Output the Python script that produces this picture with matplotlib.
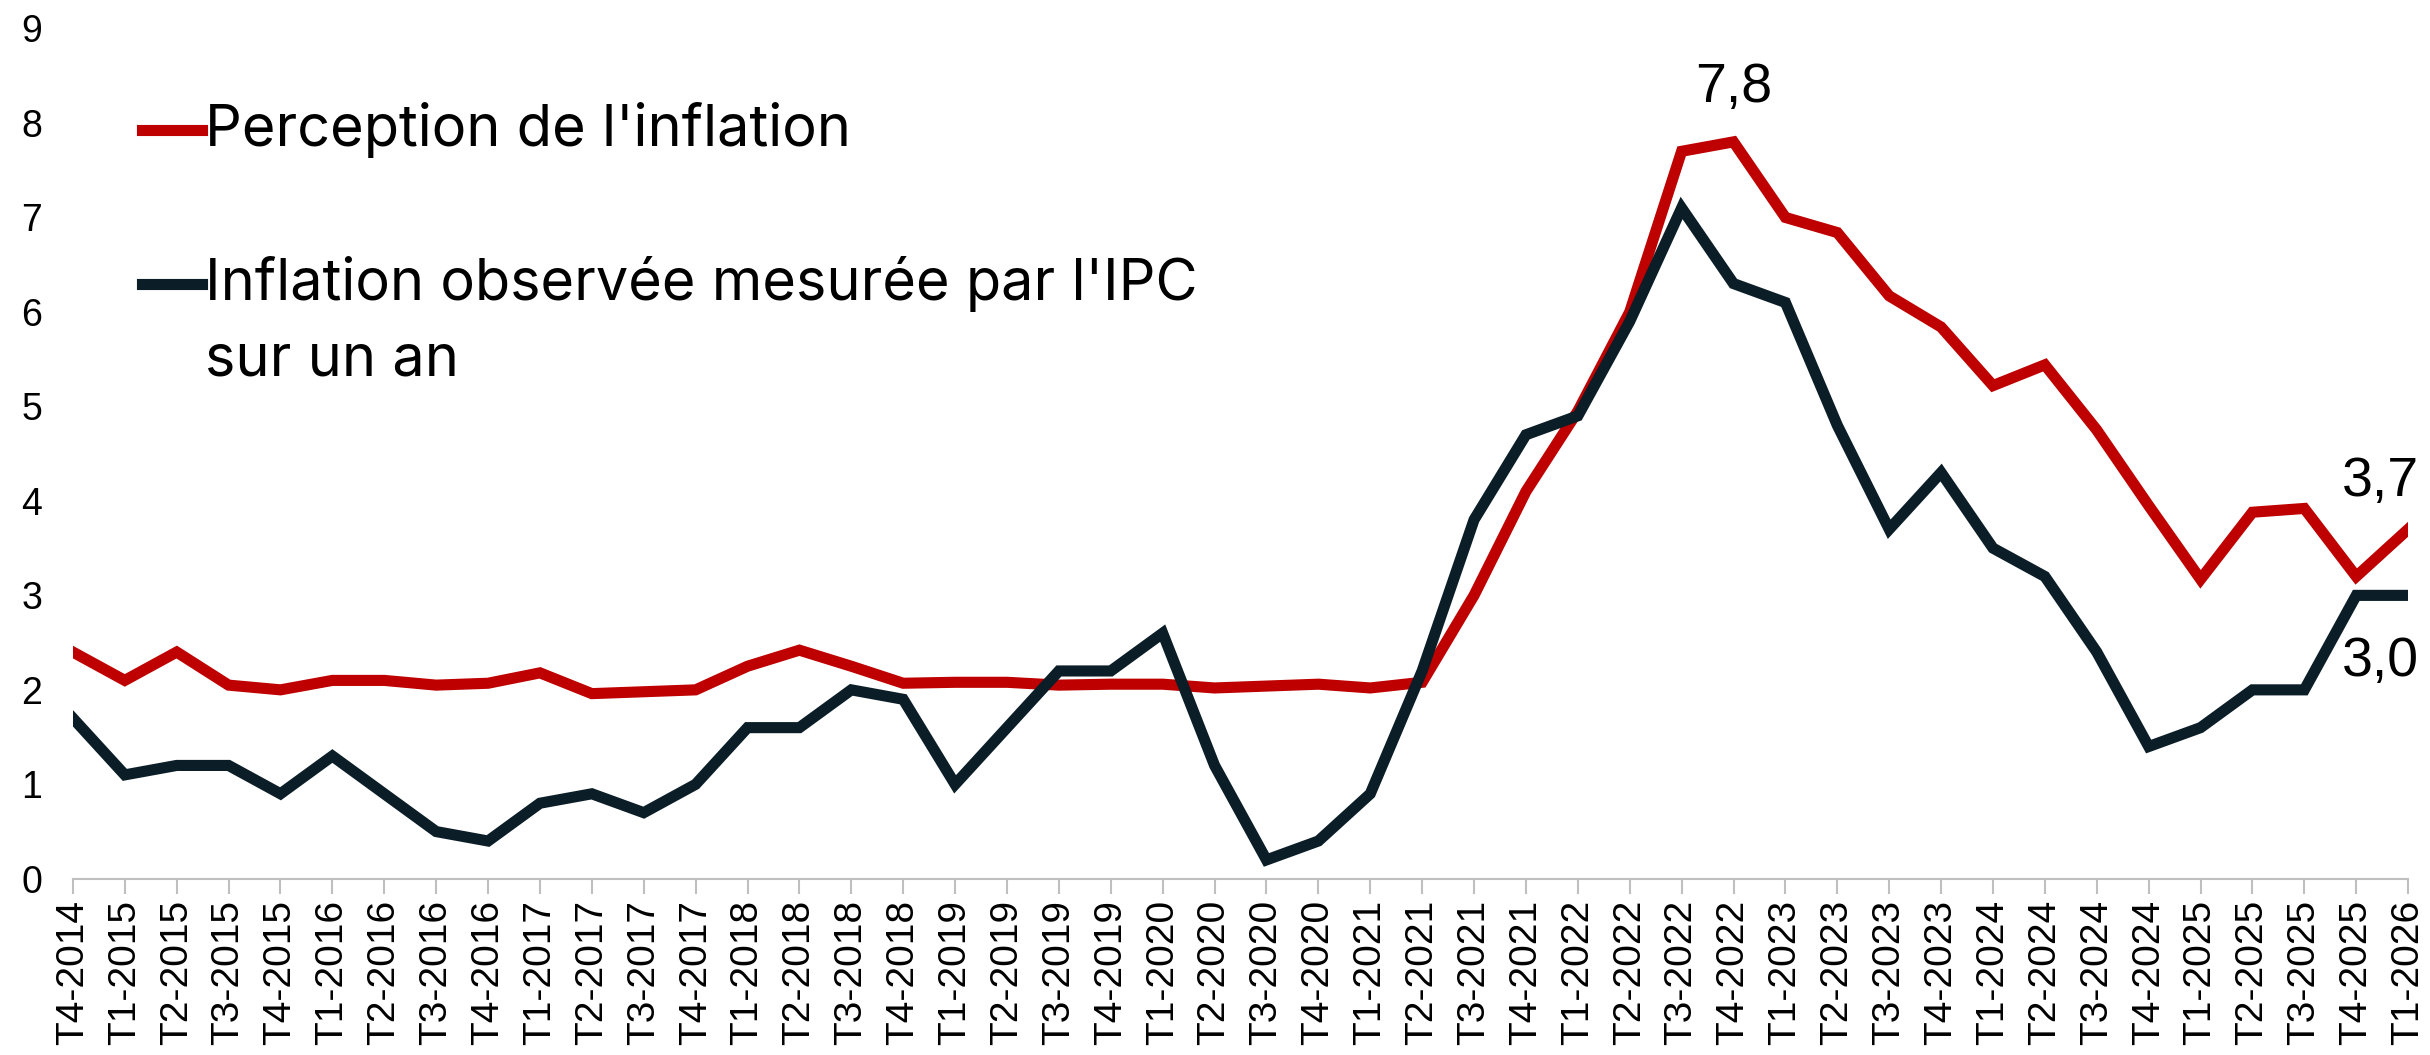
import numpy as np
import matplotlib.pyplot as plt

# quarterly labels, T4-2014 .. T1-2026
quarters = ["T4-2014"]
for yr in range(2015, 2026):
    for q in range(1, 5):
        quarters.append(f"T{q}-{yr}")
quarters.append("T1-2026")

perception = [2.4, 2.1, 2.4, 2.05, 2.0, 2.1, 2.1, 2.05, 2.07, 2.18, 1.96, 1.98, 2.0,
              2.25, 2.42, 2.25, 2.07, 2.08, 2.08, 2.05, 2.06, 2.06, 2.02, 2.04, 2.06,
              2.02, 2.08, 3.0, 4.1, 4.95, 6.0, 7.7, 7.8, 7.0, 6.84, 6.17, 5.84, 5.22,
              5.44, 4.75, 3.95, 3.17, 3.88, 3.92, 3.2, 3.7]
ipc = [1.7, 1.1, 1.2, 1.2, 0.9, 1.3, 0.9, 0.5, 0.4, 0.8, 0.9, 0.7, 1.0,
       1.6, 1.6, 2.0, 1.9, 1.0, 1.6, 2.2, 2.2, 2.6, 1.2, 0.2, 0.4,
       0.9, 2.2, 3.8, 4.7, 4.9, 5.9, 7.1, 6.3, 6.1, 4.8, 3.7, 4.3, 3.5,
       3.2, 2.4, 1.4, 1.6, 2.0, 2.0, 3.0, 3.0]

labels = ["Perception de l'inflation", "Inflation observée mesurée par l'IPC", "sur un an"]
red = "#BE0000"
dark = "#0B1D26"

fig = plt.figure(figsize=(24.3, 10.55), dpi=100)
ax = fig.add_axes([0.030, 0.167, 0.961, 0.806])

x = np.arange(len(quarters))
ax.plot(x, perception, color=red, lw=8, solid_joinstyle="miter")
ax.plot(x, ipc, color=dark, lw=8, solid_joinstyle="miter")

ax.set_xlim(0, len(quarters) - 1)
ax.set_ylim(0, 9)
ax.set_yticks(range(10))
ax.set_xticks(x)
ax.set_xticklabels(quarters, rotation=90, family="Liberation Sans", fontsize=28)
for lab in ax.get_yticklabels():
    lab.set_family("Liberation Sans")
    lab.set_fontsize(27)
ax.tick_params(axis="y", length=0, pad=22)
ax.tick_params(axis="x", length=11, width=1.5, color="#BFBFBF", pad=4)
for s in ["top", "right", "left"]:
    ax.spines[s].set_visible(False)
ax.spines["bottom"].set_color("#BFBFBF")
ax.spines["bottom"].set_linewidth(1.5)

# manual legend, handle aligned on first text line
tf = ax.transAxes
ax.plot([0.0298, 0.0551], [0.881, 0.881], color=red, lw=8, transform=tf, clip_on=False)
ax.plot([0.0298, 0.0551], [0.700, 0.700], color=dark, lw=8, transform=tf, clip_on=False)
for lab, yy in [(labels[0], 0.881), (labels[1], 0.700), (labels[2], 0.609)]:
    ax.text(0.0565, yy, lab, transform=tf, va="center", ha="left", fontsize=41.5,
            family="Inter")

# data labels
ax.annotate("7,8", (32, perception[32]), xytext=(0, 20), textcoords="offset points",
            ha="center", va="bottom", fontsize=40, family="Liberation Sans")
ax.annotate("3,7", (45, perception[45]), xytext=(-20, 34), textcoords="offset points",
            ha="center", va="center", fontsize=40, family="Liberation Sans")
ax.annotate("3,0", (45, ipc[45]), xytext=(-20, -48), textcoords="offset points",
            ha="center", va="center", fontsize=40, family="Liberation Sans")

fig.savefig("out.png", dpi=100)
